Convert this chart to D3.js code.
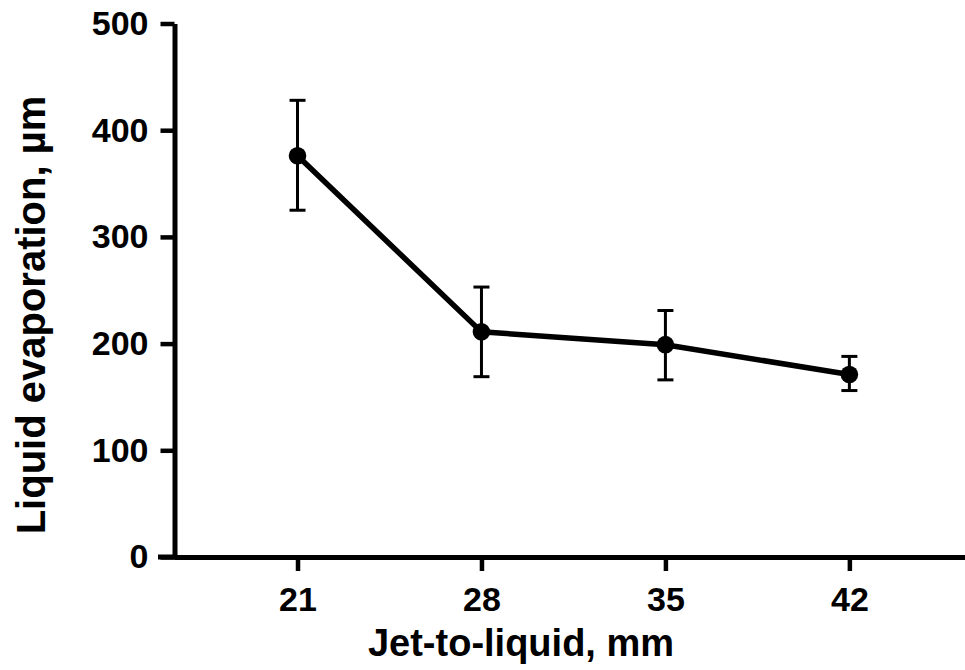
<!DOCTYPE html>
<html>
<head>
<meta charset="utf-8">
<script src="https://cdn.jsdelivr.net/npm/d3@7"></script>
<style>
  body { margin: 0; background: #fff; }
  text { font-family: "Liberation Sans", Arial, sans-serif; font-weight: bold; fill: #000; }
</style>
</head>
<body>
<div id="chart"></div>
<script>
var width = 965;
var height = 670;

// data
let distances = [21, 28, 35, 42];
let evaporation = [376, 211, 199, 171];
let errUpper = [428, 253, 231, 188];
let errLower = [325, 169, 166, 156];
let yTicks = [0, 100, 200, 300, 400, 500];

let scaleX = d3.scaleLinear()
    .domain([16.3, 46.4])
    .range([174, width]);

let scaleY = d3.scaleLinear()
    .domain([0, 500])
    .range([557, 23.5]);

let svg = d3.select('#chart')
    .append('svg')
    .attr('width', width)
    .attr('height', height);

// y axis
let yAxis = svg.append('g')
    .attr('transform', 'translate(174.5,0)')
    .call(d3.axisLeft(scaleY).tickValues(yTicks).tickSize(14).tickSizeOuter(0).tickPadding(12));

// x axis
let xAxis = svg.append('g')
    .attr('transform', 'translate(0,557)')
    .call(d3.axisBottom(scaleX).tickValues(distances).tickSize(14).tickSizeOuter(0).tickPadding(16));

[yAxis, xAxis].forEach(function(ax) {
    ax.select('.domain').attr('stroke', '#000').attr('stroke-width', 5);
    ax.selectAll('.tick line').attr('stroke', '#000').attr('stroke-width', 4.5);
    ax.selectAll('.tick text').style('font-size', '34px').attr('fill', '#000');
});

// extend x axis line left to meet 0 tick
svg.append('line')
    .attr('x1', 158).attr('x2', 177)
    .attr('y1', 557).attr('y2', 557)
    .attr('stroke', '#000').attr('stroke-width', 5);

let plot = svg.append('g');

// error bars
let err = plot.selectAll('.err')
    .data(distances)
    .enter()
    .append('g')
    .classed('err', true);

err.append('line')
    .attr('x1', d => scaleX(d)).attr('x2', d => scaleX(d))
    .attr('y1', (d, i) => scaleY(errUpper[i]))
    .attr('y2', (d, i) => scaleY(errLower[i]));

err.append('line')
    .attr('x1', d => scaleX(d) - 8).attr('x2', d => scaleX(d) + 8)
    .attr('y1', (d, i) => scaleY(errUpper[i]))
    .attr('y2', (d, i) => scaleY(errUpper[i]));

err.append('line')
    .attr('x1', d => scaleX(d) - 8).attr('x2', d => scaleX(d) + 8)
    .attr('y1', (d, i) => scaleY(errLower[i]))
    .attr('y2', (d, i) => scaleY(errLower[i]));

err.selectAll('line')
    .attr('stroke', '#000')
    .attr('stroke-width', 3);

// line
let line = d3.line()
    .x(d => scaleX(d))
    .y((d, i) => scaleY(evaporation[i]));

plot.append('path')
    .datum(distances)
    .attr('d', line)
    .attr('fill', 'none')
    .attr('stroke', '#000')
    .attr('stroke-width', 5.5);

plot.selectAll('.dot')
    .data(distances)
    .enter()
    .append('circle')
    .classed('dot', true)
    .attr('cx', d => scaleX(d))
    .attr('cy', (d, i) => scaleY(evaporation[i]))
    .attr('r', 8.8)
    .attr('fill', '#000');

// axis titles
svg.append('text')
    .attr('x', 521)
    .attr('y', 656)
    .attr('text-anchor', 'middle')
    .style('font-size', '38px')
    .text('Jet-to-liquid, mm');

svg.append('text')
    .attr('transform', 'translate(45,315) rotate(-90)')
    .attr('text-anchor', 'middle')
    .style('font-size', '40px')
    .text('Liquid evaporation, µm');
</script>
</body>
</html>
